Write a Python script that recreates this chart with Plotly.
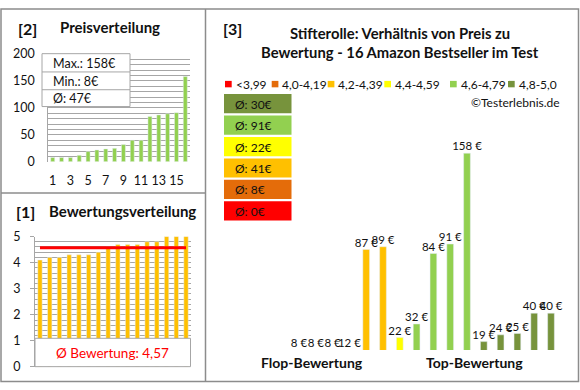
import plotly.graph_objects as go
import numpy as np

W, H = 580, 390

# ---------------- data ----------------
prices_sorted = [8, 8, 8, 12, 19, 22, 24, 25, 32, 40, 40, 84, 87, 89, 91, 158]
price_ticks = [1, 3, 5, 7, 9, 11, 13, 15]
ratings_sorted = [4.1, 4.2, 4.2, 4.3, 4.3, 4.3, 4.4, 4.6, 4.7, 4.7, 4.7, 4.8, 4.8, 5.0, 5.0, 5.0]
prices_by_rating = [8, 8, 8, 12, 87, 89, 22, 32, 84, 91, 158, 19, 24, 25, 40, 40]
category_labels = ["<3,99", "4,0-4,19", "4,2-4,39", "4,4-4,59", "4,6-4,79", "4,8-5,0"]
category_lower = [0.0, 4.0, 4.2, 4.4, 4.6, 4.8]
category_colors = ["#FF0000", "#E46C0A", "#FFC000", "#FFFF00", "#92D050", "#77933C"]

FONT = "Lato"
TXT = "#111111"
GRID = "#A6A6A6"
BORDER = "#8C8C8C"


def px(x):
    return x / W


def py(y):
    return 1 - y / H


def cat_of(r):
    idx = 0
    for i, lo in enumerate(category_lower):
        if r >= lo - 1e-9:
            idx = i
    return idx


cats = [cat_of(r) for r in ratings_sorted]
bar_colors = [category_colors[c] for c in cats]
cat_means = []
for ci in range(len(category_labels)):
    vals = [p for p, c in zip(prices_by_rating, cats) if c == ci]
    cat_means.append(round(float(np.mean(vals))) if vals else 0)

n = len(prices_sorted)
xs = list(range(1, n + 1))
avg_rating = float(np.mean(ratings_sorted))

fig = go.Figure()

# [2] price distribution
fig.add_trace(go.Bar(x=xs, y=prices_sorted, marker_color="#92D050", width=0.45,
                     xaxis="x", yaxis="y", showlegend=False, hoverinfo="skip"))

# [1] rating distribution
fig.add_trace(go.Bar(x=xs, y=ratings_sorted, marker_color="#FFC000", width=0.45,
                     xaxis="x2", yaxis="y2", showlegend=False, hoverinfo="skip"))
fig.add_trace(go.Scatter(x=[1, n], y=[avg_rating, avg_rating], mode="lines",
                         line=dict(color="#FF0000", width=3),
                         xaxis="x2", yaxis="y2", showlegend=False, hoverinfo="skip"))

# [3] price vs rating
Y3MIN, Y3MAX = 12.8, 172.9
x3 = list(range(n))
fig.add_trace(go.Bar(x=x3, y=prices_by_rating, marker_color=bar_colors, width=0.4,
                     xaxis="x3", yaxis="y3", showlegend=False, hoverinfo="skip"))
fig.add_trace(go.Scatter(x=x3, y=np.maximum(np.array(prices_by_rating, float), Y3MIN),
                         mode="text", text=[f"{p} €" for p in prices_by_rating],
                         textposition="top center", cliponaxis=False,
                         textfont=dict(family=FONT, size=11.5, color=TXT),
                         xaxis="x3", yaxis="y3", showlegend=False, hoverinfo="skip"))

shapes = []
annotations = []

# borders
shapes.append(dict(type="rect", xref="paper", yref="paper", x0=px(1), x1=px(578.5), y0=py(388.5), y1=py(1),
                   line=dict(color=BORDER, width=1.5), layer="above"))
shapes.append(dict(type="line", xref="paper", yref="paper", x0=px(205.5), x1=px(205.5), y0=py(388.5), y1=py(1),
                   line=dict(color=BORDER, width=1.5), layer="above"))
shapes.append(dict(type="line", xref="paper", yref="paper", x0=px(1), x1=px(205.5), y0=py(192.5), y1=py(192.5),
                   line=dict(color=BORDER, width=1.5), layer="above"))

# price stats box
shapes.append(dict(type="rect", xref="paper", yref="paper", x0=px(42), x1=px(130), y0=py(102.5), y1=py(47.5),
                   fillcolor="white", line=dict(color=GRID, width=1), layer="above"))
for yy in (66.5, 85):
    shapes.append(dict(type="line", xref="paper", yref="paper", x0=px(42), x1=px(130), y0=py(yy), y1=py(yy),
                       line=dict(color=GRID, width=1), layer="above"))
stats = [f"Max.: {max(prices_sorted)}€", f"Min.: {min(prices_sorted)}€", f"Ø: {round(float(np.mean(prices_sorted)))}€"]
for t, yy in zip(stats, (57.5, 76.5, 94)):
    annotations.append(dict(text=t, xref="paper", yref="paper", x=px(51), y=py(yy), xanchor="left", yanchor="middle",
                            showarrow=False, font=dict(family=FONT, size=12.5, color=TXT)))

# rating avg box
shapes.append(dict(type="rect", xref="paper", yref="paper", x0=px(35), x1=px(190.5), y0=py(373), y1=py(343.5),
                   fillcolor="white", line=dict(color=GRID, width=1), layer="above"))
annotations.append(dict(text="Ø Bewertung: " + f"{avg_rating:.2f}".replace(".", ","), xref="paper", yref="paper",
                        x=px(112), y=py(358.5), xanchor="center", yanchor="middle", showarrow=False,
                        font=dict(family=FONT, size=13.5, color="#FF0000")))

# panel titles
title_specs = [
    ("<b>[2]</b>", 16, 21, "left", 16),
    ("<b>Preisverteilung</b>", 58, 20, "left", 15),
    ("<b>[1]</b>", 14, 212, "left", 16),
    ("<b>Bewertungsverteilung</b>", 47, 211, "left", 15),
    ("<b>[3]</b>", 221, 21, "left", 16),
    ("<b>Stifterolle: Verhältnis von Preis zu</b>", 400, 26.5, "center", 14.8),
    ("<b>Bewertung - 16 Amazon Bestseller im Test</b>", 400, 45.5, "center", 14.8),
    ("<b>Flop-Bewertung</b>", 312, 369, "center", 14),
    ("<b>Top-Bewertung</b>", 474, 369, "center", 14),
]
for t, x, y, xa, fs in title_specs:
    annotations.append(dict(text=t, xref="paper", yref="paper", x=px(x), y=py(y), xanchor=xa, yanchor="middle",
                            showarrow=False, font=dict(family=FONT, size=fs, color=TXT)))

# legend row
legend_sq_x = [225, 271.7, 327.7, 384.3, 450, 508]
for lab, col, sx in zip(category_labels, category_colors, legend_sq_x):
    shapes.append(dict(type="rect", xref="paper", yref="paper", x0=px(sx), x1=px(sx + 6.7), y0=py(82.5), y1=py(75.8),
                       fillcolor=col, line=dict(width=0), layer="above"))
    annotations.append(dict(text=lab.replace("<", "&lt;"), xref="paper", yref="paper", x=px(sx + 8.5), y=py(79.5),
                            xanchor="left", yanchor="middle", showarrow=False,
                            font=dict(family=FONT, size=12, color=TXT)))
annotations.append(dict(text="©Testerlebnis.de", xref="paper", yref="paper", x=px(562), y=py(98.5),
                        xanchor="right", yanchor="middle", showarrow=False,
                        font=dict(family=FONT, size=12, color=TXT)))

# category average boxes (best first)
for i, ci in enumerate(reversed(range(len(category_labels)))):
    top = 89.5 + i * 22.3
    shapes.append(dict(type="rect", xref="paper", yref="paper", x0=px(224), x1=px(291.5), y0=py(top + 20),
                       y1=py(top), fillcolor=category_colors[ci], line=dict(width=0), layer="above"))
    annotations.append(dict(text=f"Ø: {cat_means[ci]}€", xref="paper", yref="paper", x=px(233), y=py(top + 10.5),
                            xanchor="left", yanchor="middle", showarrow=False,
                            font=dict(family=FONT, size=12, color=TXT)))

fig.update_layout(
    width=W, height=H, margin=dict(l=0, r=0, t=0, b=0),
    paper_bgcolor="white", plot_bgcolor="white",
    font=dict(family=FONT, size=12, color=TXT),
    barmode="overlay",
    shapes=shapes, annotations=annotations,
    xaxis=dict(domain=[px(48.3), px(189.7)], range=[0.5, n + 0.5], tickvals=price_ticks, showgrid=False,
               zeroline=False, showline=False, ticks="", ticklabelstandoff=10, anchor="y",
               tickfont=dict(family=FONT, size=12.5, color=TXT), fixedrange=True),
    yaxis=dict(domain=[py(160), py(47.7)], range=[0, 200], dtick=50, showgrid=True, gridcolor=GRID, gridwidth=1,
               minor=dict(dtick=10, showgrid=True, gridcolor=GRID, gridwidth=1),
               zeroline=False, showline=True, linecolor=GRID, ticks="", ticklabelstandoff=10, anchor="x",
               tickfont=dict(family=FONT, size=12.5, color=TXT), fixedrange=True),
    xaxis2=dict(domain=[px(35.1), px(190.9)], range=[0.5, n + 0.5], showticklabels=False, showgrid=False,
                zeroline=False, showline=False, ticks="", anchor="y2", fixedrange=True),
    yaxis2=dict(domain=[py(373.3), py(237.7)], range=[0, 5], dtick=1, showgrid=True, gridcolor=GRID,
                minor=dict(dtick=0.2, showgrid=True, gridcolor=GRID),
                zeroline=False, showline=True, linecolor=GRID, ticks="outside", ticklen=4, tickcolor=GRID,
                ticklabelstandoff=7, anchor="x2", tickfont=dict(family=FONT, size=12.5, color=TXT),
                fixedrange=True),
    xaxis3=dict(domain=[px(290.6), px(559.4)], range=[-0.5, n - 0.5], visible=False, anchor="y3", fixedrange=True),
    yaxis3=dict(domain=[py(355.7), py(130)], range=[Y3MIN, Y3MAX], visible=False, anchor="x3", fixedrange=True),
)

fig.write_html("out.html", config={"displayModeBar": False, "staticPlot": True},
               post_script="document.body.style.margin='0';document.body.style.overflow='hidden';")
